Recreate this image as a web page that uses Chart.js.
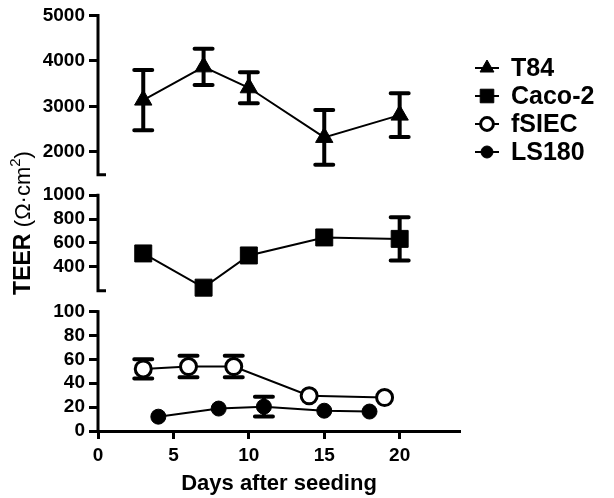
<!DOCTYPE html>
<html>
<head>
<meta charset="utf-8">
<script src="https://cdn.jsdelivr.net/npm/chart.js@4.4.1/dist/chart.umd.min.js"></script>
<style>body{margin:0;background:#fff}</style>
</head>
<body>
<canvas id="c" width="614" height="498"></canvas>
<script>
// values (mean and SD)
const t84Days = [3, 7, 10, 15, 20]
const t84Mean = [3140, 3870, 3410, 2320, 2810]
const t84Sd = [660, 400, 340, 600, 480]

const cacoDays = [3, 7, 10, 15, 20]
const cacoMean = [512, 225, 495, 646, 634]
const cacoSd = [0, 0, 0, 0, 181]

const fsiecDays = [3, 6, 9, 14, 19]
const fsiecMean = [52, 54, 54, 29.5, 28]
const fsiecSd = [8, 9, 9, 0, 0]

const ls180Days = [4, 8, 11, 15, 18]
const ls180Mean = [12, 18.8, 20.4, 17, 16.3]
const ls180Sd = [0, 0, 8.3, 0, 0]

const xTicks = [0, 5, 10, 15, 20]
const topTicks = [2000, 3000, 4000, 5000]
const midTicks = [400, 600, 800, 1000]
const lowTicks = [0, 20, 40, 60, 80, 100]

const FONT = '"Liberation Sans", Arial, sans-serif'

// pixel layout of the three broken y-axis segments
const panels = [
    {id: 'yLow', min: 0, max: 100, pxTop: 311.5, pxBottom: 431, bandTop: 301, bandBottom: 431, ticks: lowTicks, cap: false},
    {id: 'yMid', min: 200, max: 1000, pxTop: 195, pxBottom: 290.5, bandTop: 184.5, bandBottom: 301, ticks: midTicks, cap: true},
    {id: 'yTop', min: 1500, max: 5000, pxTop: 15, pxBottom: 174.5, bandTop: 15, bandBottom: 184.5, ticks: topTicks, cap: true}
]

function toPoints(xs, ys) {
    return xs.map((x, i) => ({x: x, y: ys[i]}))
}

function yAxis(p) {
    const s = (p.max - p.min) / (p.pxBottom - p.pxTop)
    return {
        type: 'linear',
        position: 'left',
        stack: 'teer',
        stackWeight: p.bandBottom - p.bandTop,
        min: p.min - (p.bandBottom - p.pxBottom) * s,
        max: p.max + (p.pxTop - p.bandTop) * s,
        afterBuildTicks: scale => { scale.ticks = p.ticks.map(v => ({value: v})) },
        afterFit: scale => { scale.width = 98 },
        border: {display: false},
        grid: {drawOnChartArea: false, tickLength: 9, tickWidth: 3, tickColor: '#000'},
        ticks: {
            color: '#000',
            font: {family: FONT, weight: 'bold', size: 19},
            padding: 4,
            autoSkip: false,
            callback: v => String(v)
        }
    }
}

function series(label, xs, ys, sd, axis, style, radius, fill, bw) {
    return {
        label: label,
        data: toPoints(xs, ys),
        sd: sd,
        yAxisID: axis,
        borderColor: '#000',
        borderWidth: 2,
        pointStyle: style,
        pointRadius: radius,
        pointHoverRadius: radius,
        pointBackgroundColor: fill,
        pointBorderColor: '#000',
        pointBorderWidth: bw,
        tension: 0
    }
}

const decorations = {
    id: 'decorations',
    beforeDatasetsDraw(chart) {
        const ctx = chart.ctx
        ctx.save()
        ctx.strokeStyle = '#000'
        ctx.lineWidth = 3
        panels.forEach(p => {
            const sc = chart.scales[p.id]
            const x = sc.right
            const yT = sc.getPixelForValue(p.max)
            const yB = sc.getPixelForValue(p.min)
            ctx.beginPath()
            ctx.moveTo(x, yT - 1.5)
            ctx.lineTo(x, yB)
            if (p.cap) {
                ctx.moveTo(x - 1.5, yB)
                ctx.lineTo(x + 8, yB)
            }
            ctx.stroke()
        })
        ctx.lineWidth = 4
        ctx.lineCap = 'round'
        chart.data.datasets.forEach(ds => {
            const ys = chart.scales[ds.yAxisID]
            const xs = chart.scales.x
            ds.sd.forEach((e, j) => {
                if (!e) return
                const pt = ds.data[j]
                const x = xs.getPixelForValue(pt.x)
                const hi = ys.getPixelForValue(pt.y + e)
                const lo = ys.getPixelForValue(pt.y - e)
                ctx.beginPath()
                ctx.moveTo(x, hi)
                ctx.lineTo(x, lo)
                ctx.moveTo(x - 9, hi)
                ctx.lineTo(x + 9, hi)
                ctx.moveTo(x - 9, lo)
                ctx.lineTo(x + 9, lo)
                ctx.stroke()
            })
        })
        ctx.restore()
    },
    afterDraw(chart) {
        const ctx = chart.ctx
        ctx.save()
        // legend
        chart.data.datasets.forEach((ds, i) => {
            const y = 68 + i * 28
            ctx.strokeStyle = '#000'
            ctx.lineWidth = 2
            ctx.beginPath()
            ctx.moveTo(475, y)
            ctx.lineTo(499, y)
            ctx.stroke()
            ctx.fillStyle = ds.pointBackgroundColor
            ctx.lineWidth = ds.pointBorderWidth
            Chart.helpers.drawPoint(ctx, {pointStyle: ds.pointStyle, radius: ds.pointRadius * 0.8, borderWidth: ds.pointBorderWidth, rotation: 0}, 487, y)
            ctx.fillStyle = '#000'
            ctx.font = 'bold 25px ' + FONT
            ctx.textBaseline = 'middle'
            ctx.textAlign = 'left'
            ctx.fillText(ds.label, 511, y + 1)
        })
        // y axis title, rotated
        ctx.translate(24, 223)
        ctx.rotate(-Math.PI / 2)
        ctx.textBaseline = 'middle'
        ctx.textAlign = 'left'
        const parts = [
            {t: 'TEER ', f: 'bold 23px ' + FONT, dy: 0},
            {t: '(\u03A9\u00B7cm', f: '22px ' + FONT, dy: 0},
            {t: '2', f: '15px ' + FONT, dy: -8},
            {t: ')', f: '22px ' + FONT, dy: 0}
        ]
        let total = 0
        parts.forEach(p => { ctx.font = p.f; p.w = ctx.measureText(p.t).width; total += p.w })
        let x = -total / 2
        parts.forEach(p => {
            ctx.font = p.f
            ctx.fillText(p.t, x, p.dy)
            x += p.w
        })
        ctx.restore()
    }
}

const scales = {
    x: {
        type: 'linear',
        min: 0,
        max: 24,
        afterBuildTicks: scale => { scale.ticks = xTicks.map(v => ({value: v})) },
        afterFit: scale => { scale.height = 67 },
        border: {color: '#000', width: 3},
        grid: {drawOnChartArea: false, tickLength: 8, tickWidth: 3, tickColor: '#000'},
        ticks: {color: '#000', font: {family: FONT, weight: 'bold', size: 19}, padding: 5, autoSkip: false, maxRotation: 0},
        title: {display: true, text: 'Days after seeding', color: '#000', font: {family: FONT, weight: 'bold', size: 22}, padding: {top: 0, bottom: 1}}
    }
}
panels.forEach(p => { scales[p.id] = yAxis(p) })

new Chart(document.getElementById('c'), {
    type: 'line',
    data: {
        datasets: [
            series('T84', t84Days, t84Mean, t84Sd, 'yTop', 'triangle', 10, '#000', 1),
            series('Caco-2', cacoDays, cacoMean, cacoSd, 'yMid', 'rect', 12, '#000', 1),
            series('fSIEC', fsiecDays, fsiecMean, fsiecSd, 'yLow', 'circle', 8, '#fff', 3),
            series('LS180', ls180Days, ls180Mean, ls180Sd, 'yLow', 'circle', 7.5, '#000', 1)
        ]
    },
    options: {
        responsive: false,
        animation: false,
        layout: {padding: {left: 0, top: 15, right: 154, bottom: 0}},
        plugins: {legend: {display: false}, tooltip: {enabled: false}},
        scales: scales
    },
    plugins: [decorations]
})
</script>
</body>
</html>
